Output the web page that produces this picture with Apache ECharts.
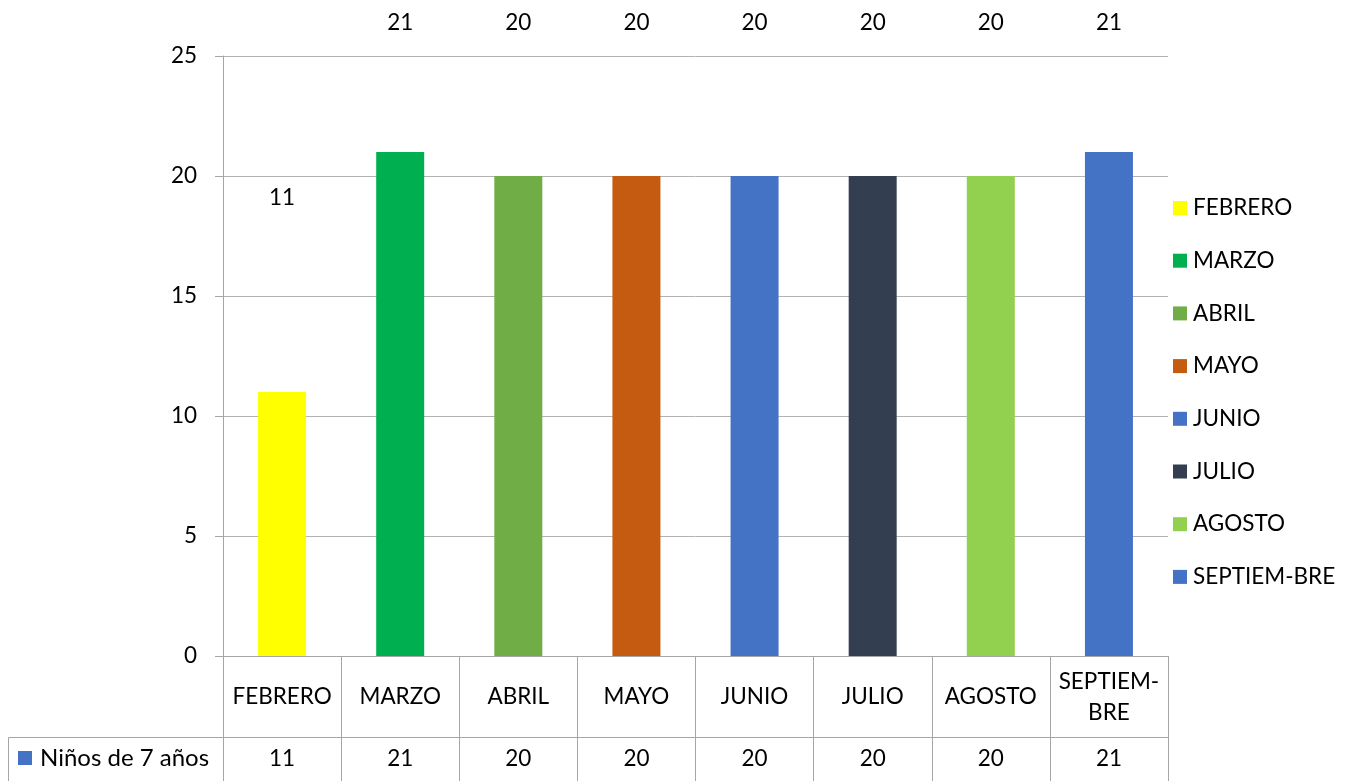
<!DOCTYPE html>
<html>
<head>
<meta charset="utf-8">
<script src="https://cdn.jsdelivr.net/npm/echarts@6/dist/echarts.min.js"></script>
<style>
  html, body { margin: 0; padding: 0; background: #fff; }
  #chart { width: 1354px; height: 781px; }
</style>
</head>
<body>
<div id="chart"></div>
<script>
// Months shown on the category axis / legend
const months = ['FEBRERO', 'MARZO', 'ABRIL', 'MAYO', 'JUNIO', 'JULIO', 'AGOSTO', 'SEPTIEM-BRE'];
// Number of 7-year-old children per month
const ninos = [11, 21, 20, 20, 20, 20, 20, 21];
// Value-axis ticks
const yTicks = [0, 5, 10, 15, 20, 25];
const seriesLabel = 'Niños de 7 años';

// Bar fill per month
const barColors = ['#FFFF00', '#00B050', '#70AD47', '#C55A11', '#4472C4', '#333F50', '#92D050', '#4472C4'];
// How far each value label floats above its bar (px)
const labelLift = [183, 118, 142, 142, 142, 142, 142, 118];

const FONT = 'Lato, "Liberation Sans", sans-serif';
const FS = 22.5;
const LINE = '#A6A6A6';

const chart = echarts.init(document.getElementById('chart'), null, { renderer: 'canvas' });

const series = months.map((m, i) => ({
  name: m,
  type: 'bar',
  stack: 'total',
  barWidth: 48,
  xAxisIndex: 0,
  itemStyle: { color: barColors[i] },
  label: {
    show: true,
    position: 'top',
    distance: labelLift[i],
    color: '#000',
    fontFamily: FONT,
    fontSize: FS,
    formatter: p => p.value
  },
  data: ninos.map((v, j) => (j === i ? v : null))
}));

chart.setOption({
  animation: false,
  textStyle: { fontFamily: FONT },
  grid: { left: 223, right: 186, top: 56, bottom: 125, containLabel: false },
  legend: {
    orient: 'vertical',
    left: 1173,
    top: 196,
    padding: 0,
    itemWidth: 14,
    itemHeight: 14,
    itemGap: 28.7,
    icon: 'rect',
    textStyle: { fontFamily: FONT, fontSize: FS, color: '#000', lineHeight: 24, padding: [0, 0, 0, 1] },
    data: months
  },
  xAxis: [
    {
      type: 'category',
      data: months,
      position: 'bottom',
      axisLine: { show: true, lineStyle: { color: LINE, width: 1 } },
      axisTick: { show: true, length: 140, interval: 0, lineStyle: { color: LINE, width: 1 } },
      axisLabel: {
        interval: 0,
        margin: 41,
        verticalAlign: 'middle',
        color: '#000',
        fontFamily: FONT,
        fontSize: FS,
        lineHeight: 31,
        formatter: v => v.replace('-', '-\n')
      },
      splitLine: { show: false }
    },
    {
      type: 'category',
      data: ninos.map(String),
      position: 'bottom',
      offset: 81,
      axisLine: { show: true, lineStyle: { color: LINE, width: 1 } },
      axisTick: { show: false },
      axisLabel: {
        interval: 0,
        margin: 22,
        verticalAlign: 'middle',
        color: '#000',
        fontFamily: FONT,
        fontSize: FS
      }
    }
  ],
  yAxis: {
    type: 'value',
    min: yTicks[0],
    max: yTicks[yTicks.length - 1],
    interval: yTicks[1] - yTicks[0],
    axisLine: { show: true, lineStyle: { color: LINE, width: 1 } },
    axisTick: { show: true, length: 8, lineStyle: { color: LINE, width: 1 } },
    axisLabel: { margin: 26, color: '#000', fontFamily: FONT, fontSize: FS },
    splitLine: { show: true, lineStyle: { color: '#B3B3B3', width: 1 } }
  },
  graphic: [
    // Left header cell of the data table
    { type: 'line', shape: { x1: 8.5, y1: 737.5, x2: 223, y2: 737.5 }, style: { stroke: LINE, lineWidth: 1 } },
    { type: 'line', shape: { x1: 8.5, y1: 737.5, x2: 8.5, y2: 781 }, style: { stroke: LINE, lineWidth: 1 } },
    { type: 'rect', shape: { x: 18, y: 751, width: 14, height: 14 }, style: { fill: '#4472C4' } },
    { type: 'text', x: 40, y: 758, style: { text: seriesLabel, fill: '#000', font: '24px ' + FONT, verticalAlign: 'middle' } }
  ],
  series: series
});
</script>
</body>
</html>
